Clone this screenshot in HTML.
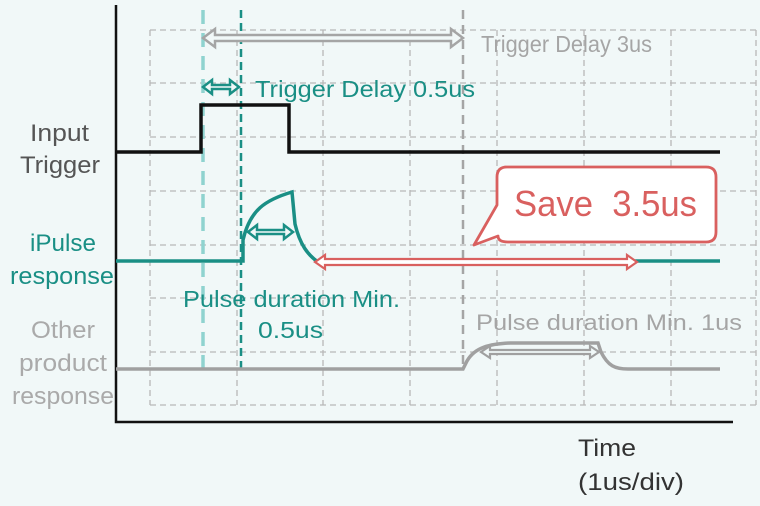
<!DOCTYPE html>
<html><head><meta charset="utf-8"><style>
html,body{margin:0;padding:0;background:#f1f8f8;}
svg{display:block;}
text{font-family:"Liberation Sans","DejaVu Sans",sans-serif;}
</style></head><body>
<svg width="760" height="506" viewBox="0 0 760 506" xmlns="http://www.w3.org/2000/svg">
<rect width="760" height="506" fill="#f1f8f8"/>
<g stroke="#b8b8b8" stroke-width="1.3" stroke-dasharray="6,4" fill="none">
<path d="M150 30H756M150 83H756M150 137H756M150 191H756M150 245H756M150 298H756M150 352H756M150 405H756"/>
<path d="M150 30V405M237 30V405M323 30V405M410 30V405M497 30V405M584 30V405M671 30V405M756 30V405"/>
</g>
<line x1="203" y1="10" x2="203" y2="370" stroke="#8fd3cf" stroke-width="3.5" stroke-dasharray="14,9"/>
<line x1="241" y1="10" x2="241" y2="372" stroke="#1a8f85" stroke-width="2.5" stroke-dasharray="8,5"/>
<line x1="463" y1="10" x2="463" y2="370" stroke="#a5a5a5" stroke-width="2.5" stroke-dasharray="9,6"/>
<path d="M116 5V422H733" stroke="#111" stroke-width="2.5" fill="none"/>
<path d="M116 152H201V105H289V152H720" stroke="#111" stroke-width="3.5" fill="none"/>
<path d="M116 261H243V240C250 210 265 200 292 192L295 224C300 245 308 255 318 262" stroke="#1a8f85" stroke-width="3.5" fill="none"/>
<path d="M634 261H720" stroke="#1a8f85" stroke-width="3.5"/>
<path d="M116 369H463L467 361C475 347 490 344 510 343H598L601 352C608 366 615 369 628 369H720" stroke="#a0a0a0" stroke-width="3.5" fill="none"/>
<path d="M203 38L215 29V35H451V29L463 38L451 47V41H215V47Z" fill="#f1f8f8" stroke="#a5a5a5" stroke-width="2.5"/>
<path d="M203 87L212 80V85H230V80L239 87L230 94V89H212V94Z" fill="#f1f8f8" stroke="#1a8f85" stroke-width="2.5"/>
<path d="M248 232L257 225V230H284V225L293 232L284 239V234H257V239Z" fill="none" stroke="#1a8f85" stroke-width="2.5"/>
<path d="M315 262L325 255V259H627V255L637 262L627 269V265H325V269Z" fill="#fff" stroke="#d9605f" stroke-width="2.2"/>
<path d="M481 352L490 346V350H590V346L599 352L590 358V354H490V358Z" fill="#f1f8f8" stroke="#a0a0a0" stroke-width="2.2"/>
<path d="M505 167H706Q716 167 716 177V232Q716 242 706 242H508Q498 242 498 236L474 245L497 205V177Q497 167 507 167Z" fill="#fff" stroke="#d9605f" stroke-width="2.8" stroke-linejoin="round"/>
<text x="514" y="216" font-size="36" fill="#d9605f" textLength="183" lengthAdjust="spacingAndGlyphs" xml:space="preserve">Save  3.5us</text>
<text x="481" y="52" font-size="23" fill="#a5a5a5" textLength="171" lengthAdjust="spacingAndGlyphs">Trigger Delay 3us</text>
<text x="255" y="97" font-size="23" fill="#1a8f85" textLength="220" lengthAdjust="spacingAndGlyphs">Trigger Delay 0.5us</text>
<text x="183" y="307" font-size="23" fill="#1a8f85" textLength="217" lengthAdjust="spacingAndGlyphs">Pulse duration Min.</text>
<text x="258" y="338" font-size="23" fill="#1a8f85" textLength="65" lengthAdjust="spacingAndGlyphs">0.5us</text>
<text x="476" y="330" font-size="22" fill="#a5a5a5" textLength="266" lengthAdjust="spacingAndGlyphs">Pulse duration Min. 1us</text>
<g font-size="24">
<text x="30" y="141" fill="#555" textLength="59" lengthAdjust="spacingAndGlyphs">Input</text>
<text x="20" y="173" fill="#555" textLength="80" lengthAdjust="spacingAndGlyphs">Trigger</text>
<text x="30" y="251" fill="#1a8f85" textLength="66" lengthAdjust="spacingAndGlyphs">iPulse</text>
<text x="10" y="284" fill="#1a8f85" textLength="104" lengthAdjust="spacingAndGlyphs">response</text>
<text x="31" y="338" fill="#aaa" textLength="64" lengthAdjust="spacingAndGlyphs">Other</text>
<text x="19" y="371" fill="#aaa" textLength="88" lengthAdjust="spacingAndGlyphs">product</text>
<text x="12" y="404" fill="#aaa" textLength="102" lengthAdjust="spacingAndGlyphs">response</text>
<text x="578" y="456" fill="#333" textLength="58" lengthAdjust="spacingAndGlyphs">Time</text>
<text x="578" y="490" fill="#333" textLength="106" lengthAdjust="spacingAndGlyphs">(1us/div)</text>
</g>
</svg>
</body></html>
